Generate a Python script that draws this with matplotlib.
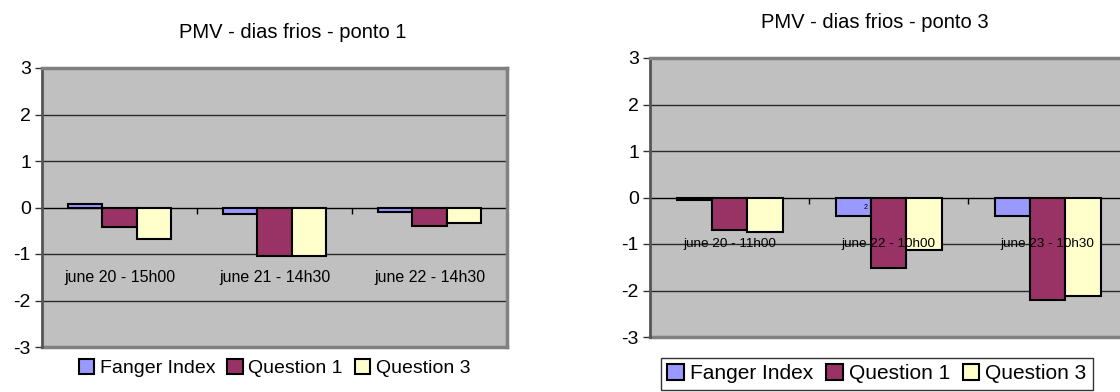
import matplotlib
matplotlib.use("Agg")
import matplotlib.pyplot as plt
import numpy as np

plt.rcParams['font.family'] = ['Liberation Sans', 'DejaVu Sans']

series_names = ["Fanger Index", "Question 1", "Question 3"]
series_colors = ["#9999FF", "#993366", "#FFFFCC"]

# ponto 1
cats_p1 = ["june 20 - 15h00", "june 21 - 14h30", "june 22 - 14h30"]
fanger_p1 = [0.08, -0.15, -0.10]
q1_p1 = [-0.43, -1.04, -0.40]
q3_p1 = [-0.67, -1.04, -0.33]

# ponto 3
cats_p3 = ["june 20 - 11h00", "june 22 - 10h00", "june 23 - 10h30"]
fanger_p3 = [-0.05, -0.40, -0.40]
q1_p3 = [-0.70, -1.52, -2.20]
q3_p3 = [-0.74, -1.13, -2.11]

yticks = [3, 2, 1, 0, -1, -2, -3]


def draw_chart(ax, cats, values, title, title_xy, label_y, label_size):
    n = len(cats)
    bw = 1 / 4.5   # excel gap width 150%
    x = np.arange(n) + 0.5
    for k, (vals, col) in enumerate(zip(values, series_colors)):
        ax.bar(x + (k - 1) * bw, vals, width=bw, color=col,
               edgecolor="black", linewidth=1.5, zorder=3,
               label=series_names[k])
    ax.set_xlim(0, n)
    ax.set_ylim(-3, 3)
    ax.set_facecolor("#C0C0C0")
    for g in [2, 1, -1, -2]:
        ax.axhline(g, color="#2a2a2a", linewidth=1, zorder=1)
    ax.axhline(-3, color="#808080", linewidth=2.5, zorder=2, clip_on=False)

    ax.set_yticks(yticks)
    ax.set_yticklabels([str(t) for t in yticks])
    ax.tick_params(axis="y", direction="out", length=5, width=1,
                   labelsize=14, pad=3, color="#333333")
    ax.set_xticks(np.arange(1, n + 1))
    ax.set_xticklabels([])
    ax.tick_params(axis="x", direction="out", length=4, width=1, color="black")

    ax.spines["bottom"].set_position(("data", 0))
    ax.spines["bottom"].set_color("black")
    ax.spines["bottom"].set_linewidth(1)
    ax.spines["bottom"].set_zorder(2)
    ax.spines["left"].set_color("#555555")
    ax.spines["left"].set_linewidth(2)
    for s in ["top", "right"]:
        ax.spines[s].set_color("#808080")
        ax.spines[s].set_linewidth(2.5)

    for i, c in enumerate(cats):
        ax.text(x[i], label_y, c, ha="center", va="center",
                fontsize=label_size, zorder=4)

    fig.text(title_xy[0], title_xy[1], title, ha="center", va="center",
             fontsize=14.5)


fig = plt.figure(figsize=(11.2, 3.92), dpi=100)

ax1 = fig.add_axes([42 / 1120, 45 / 392, 465 / 1120, 279 / 392])
draw_chart(ax1, cats_p1, [fanger_p1, q1_p1, q3_p1],
           "PMV - dias frios - ponto 1", (293 / 1120, 1 - 32 / 392), -1.5, 11.5)
ax1.legend(loc="center", bbox_to_anchor=(0.5, -0.075), ncol=3,
           frameon=False, fontsize=14, handlelength=0.8,
           handleheight=0.8, handletextpad=0.3, columnspacing=0.6,
           borderaxespad=0)

ax2 = fig.add_axes([650 / 1120, 55 / 392, 477 / 1120, 279 / 392])
draw_chart(ax2, cats_p3, [fanger_p3, q1_p3, q3_p3],
           "PMV - dias frios - ponto 3", (875 / 1120, 1 - 22 / 392), -1.0, 9.7)
# small stray data label inside the blue bar of june 22
ax2.text(1.5 - 1 / 4.5 + 0.08, -0.22, "2", fontsize=5, ha="center",
         va="center", zorder=4)
leg2 = ax2.legend(loc="upper left", bbox_to_anchor=(11 / 477, -0.075), ncol=3,
                  frameon=True, fancybox=False, edgecolor="black",
                  fontsize=15, handlelength=0.8, handleheight=0.8,
                  handletextpad=0.3, columnspacing=0.6, borderpad=0.3,
                  borderaxespad=0)
leg2.get_frame().set_linewidth(1)

fig.savefig("out.png", dpi=100)
